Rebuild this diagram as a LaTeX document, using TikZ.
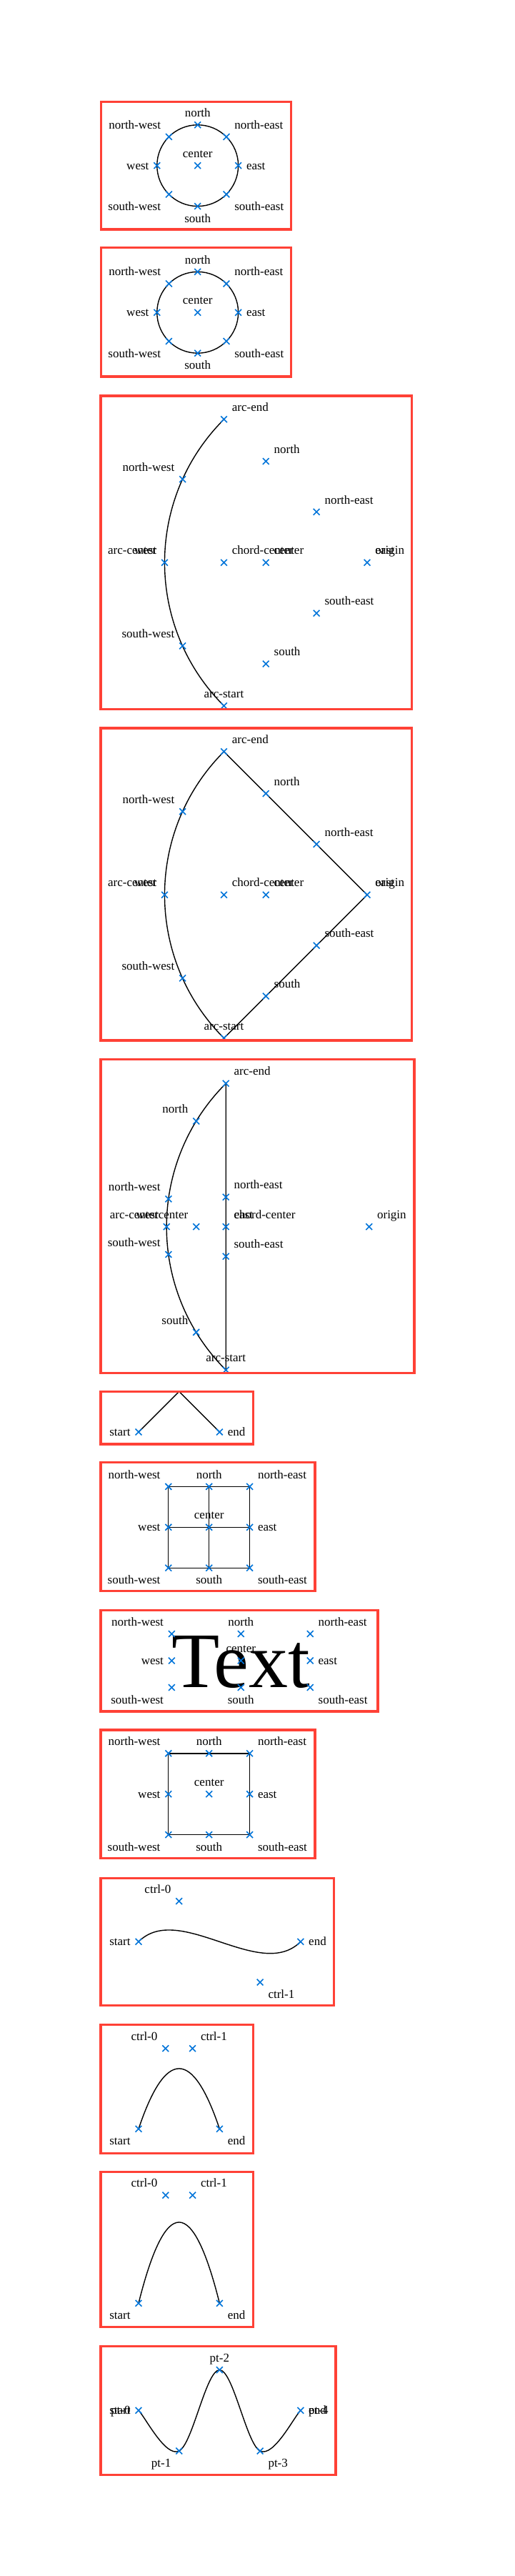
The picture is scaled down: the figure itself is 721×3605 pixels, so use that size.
\documentclass[tikz,border=0pt]{standalone}
\usepackage{fontspec}
\setmainfont{Liberation Serif}
\usetikzlibrary{shapes.misc, positioning}
\definecolor{frameRed}{HTML}{FF4136}
\definecolor{markBlue}{HTML}{0074D9}
\tikzset{
    frame/.style = {draw=frameRed, line width=1.6pt},
    outline/.style = {draw, line width=0.7pt},
    ring/.style = {circle, outline, minimum size=2cm, inner sep=0pt, outer sep=0pt},
    box/.style = {rectangle, outline, minimum size=2cm, inner sep=0pt, outer sep=0pt},
    bigtext/.style = {font=\fontsize{55}{60}\selectfont, inner sep=0pt, outer sep=0pt, text height=37.5pt, text depth=0pt},
    xmark/.style = {cross out, draw=markBlue, line width=0.8pt, minimum size=4.4pt, inner sep=0pt, outer sep=0pt},
    lbl/.style = {font=\fontsize{8.5}{10}\selectfont, inner sep=0pt, outer sep=3.5pt, text height=5.6pt, text depth=0pt}
}
\begin{document}
\begin{tikzpicture}[x=0.5pt, y=-0.5pt]
    \useasboundingbox (0,0) rectangle (721,3605);

    % --- CIRCLE A ---
    \node [ring] (circA) at (276.7,231.7) {};
    \node [xmark, label={[lbl]above:center}] (circA-c) at (circA.center) {};
    \node [xmark, label={[lbl]above:north}] (circA-n) at (circA.north) {};
    \node [xmark, label={[lbl]above right:north-east}] (circA-ne) at (circA.north east) {};
    \node [xmark, label={[lbl]right:east}] (circA-e) at (circA.east) {};
    \node [xmark, label={[lbl]below right:south-east}] (circA-se) at (circA.south east) {};
    \node [xmark, label={[lbl]below:south}] (circA-s) at (circA.south) {};
    \node [xmark, label={[lbl]below left:south-west}] (circA-sw) at (circA.south west) {};
    \node [xmark, label={[lbl]left:west}] (circA-w) at (circA.west) {};
    \node [xmark, label={[lbl]above left:north-west}] (circA-nw) at (circA.north west) {};
    \draw [frame] (141.7,142.7) rectangle (407.3,321);

    % --- CIRCLE B ---
    \node [ring] (circB) at (276.7,437.3) {};
    \node [xmark, label={[lbl]above:center}] (circB-c) at (circB.center) {};
    \node [xmark, label={[lbl]above:north}] (circB-n) at (circB.north) {};
    \node [xmark, label={[lbl]above right:north-east}] (circB-ne) at (circB.north east) {};
    \node [xmark, label={[lbl]right:east}] (circB-e) at (circB.east) {};
    \node [xmark, label={[lbl]below right:south-east}] (circB-se) at (circB.south east) {};
    \node [xmark, label={[lbl]below:south}] (circB-s) at (circB.south) {};
    \node [xmark, label={[lbl]below left:south-west}] (circB-sw) at (circB.south west) {};
    \node [xmark, label={[lbl]left:west}] (circB-w) at (circB.west) {};
    \node [xmark, label={[lbl]above left:north-west}] (circB-nw) at (circB.north west) {};
    \draw [frame] (141.7,346.7) rectangle (407.3,527);

    % --- OPEN ARC ---
    \begin{scope}[shift={(514,787.3)}]
        \draw [outline] (-200.5,200.5) arc [start angle=135, end angle=225, radius=283.5];
        \node [xmark, label={[lbl]above:arc-start}] (arcA-as) at (-200.5,200.5) {};
        \node [xmark, label={[lbl]above right:arc-end}] (arcA-ae) at (-200.5,-200.5) {};
        \node [xmark, label={[lbl]above left:arc-center}, label={[lbl]above left:west}] (arcA-w) at (-283.5,0) {};
        \node [xmark, label={[lbl]above right:chord-center}] (arcA-cc) at (-200.5,0) {};
        \node [xmark, label={[lbl]above right:center}] (arcA-c) at (-141.75,0) {};
        \node [xmark, label={[lbl]above right:north}] (arcA-n) at (-141.75,-141.75) {};
        \node [xmark, label={[lbl]above right:south}] (arcA-s) at (-141.75,141.75) {};
        \node [xmark, label={[lbl]above right:north-east}] (arcA-ne) at (-70.9,-70.9) {};
        \node [xmark, label={[lbl]above right:south-east}] (arcA-se) at (-70.9,70.9) {};
        \node [xmark, label={[lbl]above left:north-west}] (arcA-nw) at (-258.35,-116.6) {};
        \node [xmark, label={[lbl]above left:south-west}] (arcA-sw) at (-258.35,116.6) {};
        \node [xmark, label={[lbl]above right:east}, label={[lbl]above right:origin}] (arcA-o) at (0,0) {};
    \end{scope}
    \draw [frame] (141,554) rectangle (576.7,992.3);

    % --- PIE ---
    \begin{scope}[shift={(514,1252.3)}]
        \draw [outline] (0,0) -- (-200.5,200.5) arc [start angle=135, end angle=225, radius=283.5] -- cycle;
        \node [xmark, label={[lbl]above:arc-start}] (pieA-as) at (-200.5,200.5) {};
        \node [xmark, label={[lbl]above right:arc-end}] (pieA-ae) at (-200.5,-200.5) {};
        \node [xmark, label={[lbl]above left:arc-center}, label={[lbl]above left:west}] (pieA-w) at (-283.5,0) {};
        \node [xmark, label={[lbl]above right:chord-center}] (pieA-cc) at (-200.5,0) {};
        \node [xmark, label={[lbl]above right:center}] (pieA-c) at (-141.75,0) {};
        \node [xmark, label={[lbl]above right:north}] (pieA-n) at (-141.75,-141.75) {};
        \node [xmark, label={[lbl]above right:south}] (pieA-s) at (-141.75,141.75) {};
        \node [xmark, label={[lbl]above right:north-east}] (pieA-ne) at (-70.9,-70.9) {};
        \node [xmark, label={[lbl]above right:south-east}] (pieA-se) at (-70.9,70.9) {};
        \node [xmark, label={[lbl]above left:north-west}] (pieA-nw) at (-258.35,-116.6) {};
        \node [xmark, label={[lbl]above left:south-west}] (pieA-sw) at (-258.35,116.6) {};
        \node [xmark, label={[lbl]above right:east}, label={[lbl]above right:origin}] (pieA-o) at (0,0) {};
    \end{scope}
    \draw [frame] (141,1019) rectangle (576.7,1456);

    % --- CLOSED ARC (CHORD) ---
    \begin{scope}[shift={(516.7,1716.7)}]
        \draw [outline] (-200.5,200.5) arc [start angle=135, end angle=225, radius=283.5] -- cycle;
        \node [xmark, label={[lbl]above:arc-start}] (segA-as) at (-200.5,200.5) {};
        \node [xmark, label={[lbl]above right:arc-end}] (segA-ae) at (-200.5,-200.5) {};
        \node [xmark, label={[lbl]above left:arc-center}, label={[lbl]above left:west}] (segA-w) at (-283.5,0) {};
        \node [xmark, label={[lbl]above left:center}] (segA-c) at (-242,0) {};
        \node [xmark, label={[lbl]above right:east}, label={[lbl]above right:chord-center}] (segA-cc) at (-200.5,0) {};
        \node [xmark, label={[lbl]above left:north}] (segA-n) at (-242,-147.7) {};
        \node [xmark, label={[lbl]above left:south}] (segA-s) at (-242,147.7) {};
        \node [xmark, label={[lbl]above right:north-east}] (segA-ne) at (-200.5,-41.5) {};
        \node [xmark, label={[lbl]above right:south-east}] (segA-se) at (-200.5,41.5) {};
        \node [xmark, label={[lbl]above left:north-west}] (segA-nw) at (-280.8,-38.8) {};
        \node [xmark, label={[lbl]above left:south-west}] (segA-sw) at (-280.8,38.8) {};
        \node [xmark, label={[lbl]above right:origin}] (segA-o) at (0,0) {};
    \end{scope}
    \draw [frame] (141,1482.7) rectangle (580,1921.7);

    % --- POLYLINE ---
    \coordinate (lineA-s) at (194,2004);
    \coordinate (lineA-m) at (250.7,1947.3);
    \coordinate (lineA-e) at (307.4,2004);
    \draw [outline] (lineA-s) -- (lineA-m) -- (lineA-e);
    \node [xmark, label={[lbl]left:start}] (lineA-sx) at (lineA-s) {};
    \node [xmark, label={[lbl]right:end}] (lineA-ex) at (lineA-e) {};
    \draw [frame] (141,1947.3) rectangle (354.3,2021);

    % --- GRID ---
    \node [box] (gridA) at (292.7,2137.3) {};
    \draw [outline] (gridA.north) -- (gridA.south);
    \draw [outline] (gridA.west) -- (gridA.east);
    \node [xmark, label={[lbl]above:center}] (gridA-c) at (gridA.center) {};
    \node [xmark, label={[lbl]above:north}] (gridA-n) at (gridA.north) {};
    \node [xmark, label={[lbl]above right:north-east}] (gridA-ne) at (gridA.north east) {};
    \node [xmark, label={[lbl]right:east}] (gridA-e) at (gridA.east) {};
    \node [xmark, label={[lbl]below right:south-east}] (gridA-se) at (gridA.south east) {};
    \node [xmark, label={[lbl]below:south}] (gridA-s) at (gridA.south) {};
    \node [xmark, label={[lbl]below left:south-west}] (gridA-sw) at (gridA.south west) {};
    \node [xmark, label={[lbl]left:west}] (gridA-w) at (gridA.west) {};
    \node [xmark, label={[lbl]above left:north-west}] (gridA-nw) at (gridA.north west) {};
    \draw [frame] (141,2046.7) rectangle (441,2226.7);

    % --- TEXT ---
    \node [bigtext] (txtA) at (337.3,2324) {Text};
    \node [xmark, label={[lbl]above:center}] (txtA-c) at (txtA.center) {};
    \node [xmark, label={[lbl]above:north}] (txtA-n) at (txtA.north) {};
    \node [xmark, label={[lbl]above right:north-east}] (txtA-ne) at (txtA.north east) {};
    \node [xmark, label={[lbl]right:east}] (txtA-e) at (txtA.east) {};
    \node [xmark, label={[lbl]below right:south-east}] (txtA-se) at (txtA.south east) {};
    \node [xmark, label={[lbl]below:south}] (txtA-s) at (txtA.south) {};
    \node [xmark, label={[lbl]below left:south-west}] (txtA-sw) at (txtA.south west) {};
    \node [xmark, label={[lbl]left:west}] (txtA-w) at (txtA.west) {};
    \node [xmark, label={[lbl]above left:north-west}] (txtA-nw) at (txtA.north west) {};
    \draw [frame] (141,2253.3) rectangle (529,2395);

    % --- RECT ---
    \node [box] (rectA) at (292.7,2510.7) {};
    \node [xmark, label={[lbl]above:center}] (rectA-c) at (rectA.center) {};
    \node [xmark, label={[lbl]above:north}] (rectA-n) at (rectA.north) {};
    \node [xmark, label={[lbl]above right:north-east}] (rectA-ne) at (rectA.north east) {};
    \node [xmark, label={[lbl]right:east}] (rectA-e) at (rectA.east) {};
    \node [xmark, label={[lbl]below right:south-east}] (rectA-se) at (rectA.south east) {};
    \node [xmark, label={[lbl]below:south}] (rectA-s) at (rectA.south) {};
    \node [xmark, label={[lbl]below left:south-west}] (rectA-sw) at (rectA.south west) {};
    \node [xmark, label={[lbl]left:west}] (rectA-w) at (rectA.west) {};
    \node [xmark, label={[lbl]above left:north-west}] (rectA-nw) at (rectA.north west) {};
    \draw [frame] (141,2421) rectangle (441,2600.7);

    % --- BEZIER A ---
    \coordinate (bzA-s) at (194,2717.3);
    \coordinate (bzA-c0) at (250.7,2660.6);
    \coordinate (bzA-c1) at (364.1,2774);
    \coordinate (bzA-e) at (420.8,2717.3);
    \draw [outline] (bzA-s) .. controls (bzA-c0) and (bzA-c1) .. (bzA-e);
    \node [xmark, label={[lbl]left:start}] (bzA-sx) at (bzA-s) {};
    \node [xmark, label={[lbl]above left:ctrl-0}] (bzA-c0x) at (bzA-c0) {};
    \node [xmark, label={[lbl]below right:ctrl-1}] (bzA-c1x) at (bzA-c1) {};
    \node [xmark, label={[lbl]right:end}] (bzA-ex) at (bzA-e) {};
    \draw [frame] (141,2628.3) rectangle (467.3,2806.7);

    % --- BEZIER B ---
    \coordinate (bzB-s) at (194,2979.3);
    \coordinate (bzB-c0) at (231.8,2866.7);
    \coordinate (bzB-c1) at (269.6,2866.7);
    \coordinate (bzB-e) at (307.4,2979.3);
    \draw [outline] (bzB-s) .. controls (bzB-c0) and (bzB-c1) .. (bzB-e);
    \node [xmark, label={[lbl]below left:start}] (bzB-sx) at (bzB-s) {};
    \node [xmark, label={[lbl]above left:ctrl-0}] (bzB-c0x) at (bzB-c0) {};
    \node [xmark, label={[lbl]above right:ctrl-1}] (bzB-c1x) at (bzB-c1) {};
    \node [xmark, label={[lbl]below right:end}] (bzB-ex) at (bzB-e) {};
    \draw [frame] (141,2833.3) rectangle (354.3,3013.3);

    % --- BEZIER THROUGH ---
    \coordinate (bzC-s) at (194,3223.3);
    \coordinate (bzC-c0) at (231.8,3072.1);
    \coordinate (bzC-c1) at (269.6,3072.1);
    \coordinate (bzC-e) at (307.4,3223.3);
    \draw [outline] (bzC-s) .. controls (bzC-c0) and (bzC-c1) .. (bzC-e);
    \node [xmark, label={[lbl]below left:start}] (bzC-sx) at (bzC-s) {};
    \node [xmark, label={[lbl]above left:ctrl-0}] (bzC-c0x) at (bzC-c0) {};
    \node [xmark, label={[lbl]above right:ctrl-1}] (bzC-c1x) at (bzC-c1) {};
    \node [xmark, label={[lbl]below right:end}] (bzC-ex) at (bzC-e) {};
    \draw [frame] (141,3039.3) rectangle (354.3,3256.7);

    % --- CATMULL ---
    \coordinate (cat-0) at (194,3373.3);
    \coordinate (cat-1) at (250.7,3430);
    \coordinate (cat-2) at (307.4,3316.6);
    \coordinate (cat-3) at (364.1,3430);
    \coordinate (cat-4) at (420.8,3373.3);
    \draw [outline] (cat-0) .. controls +(9.45,9.45) and +(-18.9,9.45) .. (cat-1)
        .. controls +(18.9,-9.45) and +(-18.9,0) .. (cat-2)
        .. controls +(18.9,0) and +(-18.9,-9.45) .. (cat-3)
        .. controls +(18.9,9.45) and +(-9.45,9.45) .. (cat-4);
    \node [xmark, label={[lbl]left:start}, label={[lbl]left:pt-0}] (cat-0x) at (cat-0) {};
    \node [xmark, label={[lbl]below left:pt-1}] (cat-1x) at (cat-1) {};
    \node [xmark, label={[lbl]above:pt-2}] (cat-2x) at (cat-2) {};
    \node [xmark, label={[lbl]below right:pt-3}] (cat-3x) at (cat-3) {};
    \node [xmark, label={[lbl]right:end}, label={[lbl]right:pt-4}] (cat-4x) at (cat-4) {};
    \draw [frame] (141,3283.3) rectangle (470,3463.3);

\end{tikzpicture}
\end{document}
